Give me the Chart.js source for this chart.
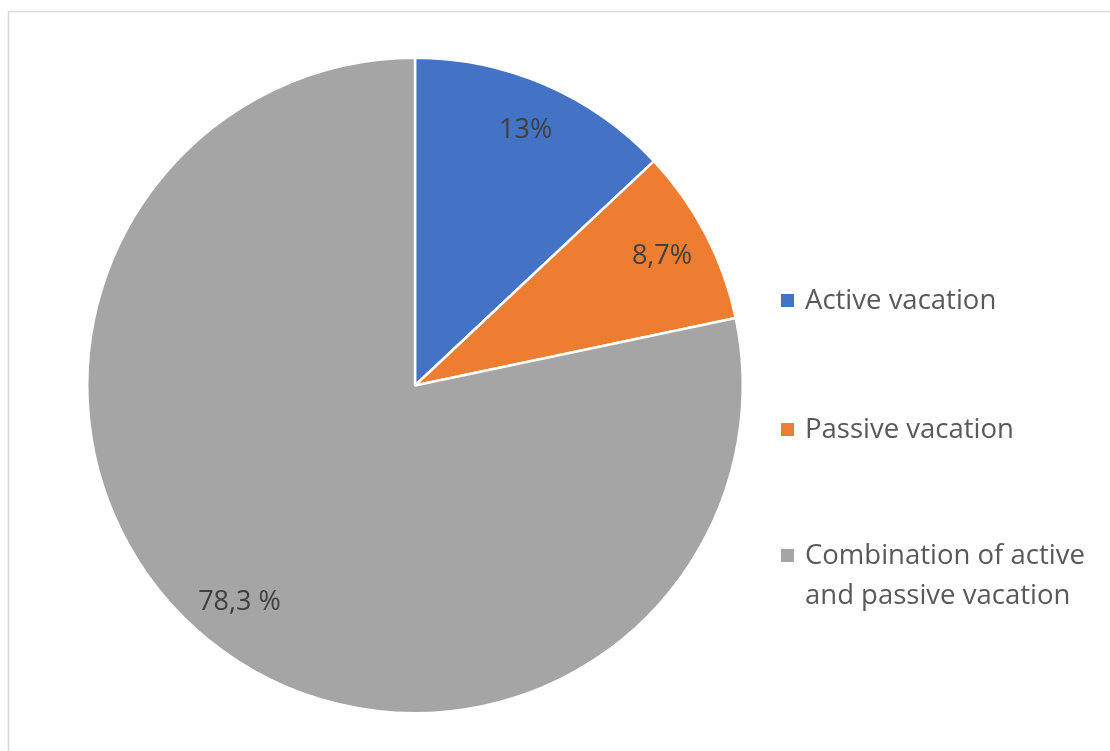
<!DOCTYPE html>
<html>
<head>
<meta charset="utf-8">
<script src="https://cdn.jsdelivr.net/npm/chart.js@4"></script>
<style>
  html, body { margin: 0; padding: 0; background: #fff; }
  #wrap { width: 1110px; height: 751px; }
</style>
</head>
<body>
<div id="wrap"><canvas id="myChart"></canvas></div>
<script>
const categories = ["Active vacation", "Passive vacation", "Combination of active and passive vacation"];
const legendLines = [["Active vacation"], ["Passive vacation"], ["Combination of active", "and passive vacation"]];
const values = [13, 8.7, 78.3];
const valueLabels = ["13%", "8,7%", "78,3 %"];
const colors = ["#4472C4", "#ED7D31", "#A5A5A5"];

const FONT = "'Open Sans', 'Noto Sans', sans-serif";

// frame + value labels + legend drawn on the canvas
const decor = {
  id: "decor",
  beforeDraw(chart) {
    const c = chart.ctx;
    c.save();
    c.strokeStyle = "#d9d9d9";
    c.lineWidth = 1.5;
    c.strokeRect(8.5, 11.5, 1300, 900);
    c.restore();
  },
  afterDraw(chart) {
    const c = chart.ctx;
    const arcs = chart.getDatasetMeta(0).data;
    c.save();
    c.fillStyle = "#404040";
    c.font = "27px " + FONT;
    c.textAlign = "center";
    c.textBaseline = "middle";
    arcs.forEach((arc, i) => {
      const mid = (arc.startAngle + arc.endAngle) / 2;
      const r = arc.outerRadius * 0.85;
      c.fillText(valueLabels[i], arc.x + Math.cos(mid) * r, arc.y + Math.sin(mid) * r);
    });

    // legend
    const rows = [301, 430, 556];
    c.font = "27.5px " + FONT;
    c.textAlign = "left";
    legendLines.forEach((lines, i) => {
      c.fillStyle = colors[i];
      c.fillRect(781, rows[i] - 7, 13, 13);
      c.fillStyle = "#595959";
      lines.forEach((t, j) => c.fillText(t, 805, rows[i] + j * 40));
    });
    c.restore();
  }
};

new Chart(document.getElementById("myChart"), {
  type: "pie",
  data: {
    labels: categories,
    datasets: [{
      data: values,
      backgroundColor: colors,
      borderColor: "#ffffff",
      borderWidth: 2.5,
    }],
  },
  options: {
    responsive: true,
    maintainAspectRatio: false,
    animation: false,
    layout: {
      padding: { left: 86, right: 366, top: 56, bottom: 36 },
    },
    plugins: {
      legend: { display: false },
      tooltip: { enabled: false },
    },
  },
  plugins: [decor],
});
</script>
</body>
</html>
